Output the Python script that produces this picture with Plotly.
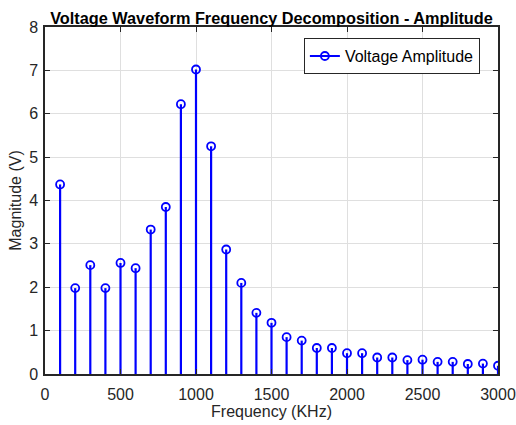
import plotly.graph_objects as go

freq_khz = [100, 200, 300, 400, 500, 600, 700, 800, 900, 1000,
            1100, 1200, 1300, 1400, 1500, 1600, 1700, 1800, 1900, 2000,
            2100, 2200, 2300, 2400, 2500, 2600, 2700, 2800, 2900, 3000]
amplitude_v = [4.37, 1.98, 2.51, 1.98, 2.56, 2.44, 3.33, 3.85, 6.22, 7.02,
               5.25, 2.87, 2.1, 1.41, 1.18, 0.85, 0.77, 0.6, 0.6, 0.48,
               0.48, 0.38, 0.38, 0.32, 0.33, 0.28, 0.28, 0.23, 0.24, 0.19]
x_ticks = [0, 500, 1000, 1500, 2000, 2500, 3000]
y_ticks = [0, 1, 2, 3, 4, 5, 6, 7, 8]

BLUE = "#0000FF"
FONT = "Liberation Sans, Arial, sans-serif"
FS = 16

stem_x, stem_y = [], []
for f, a in zip(freq_khz, amplitude_v):
    stem_x += [f, f, None]
    stem_y += [0, a, None]

fig = go.Figure()
fig.add_trace(go.Scatter(x=stem_x, y=stem_y, mode="lines",
                         line=dict(color=BLUE, width=2.2),
                         showlegend=False, hoverinfo="skip"))
fig.add_trace(go.Scatter(x=freq_khz, y=amplitude_v, mode="markers",
                         marker=dict(symbol="circle-open", size=8,
                                     color=BLUE, line=dict(width=1.8, color=BLUE)),
                         showlegend=False, name="Voltage Amplitude"))
fig.add_trace(go.Scatter(x=[None], y=[None], mode="lines+markers",
                         name="Voltage Amplitude",
                         line=dict(color=BLUE, width=2),
                         marker=dict(symbol="circle-open", size=8,
                                     color=BLUE, line=dict(width=1.8, color=BLUE))))

axis_common = dict(showline=True, linecolor="#262626", linewidth=1.5, mirror="ticks",
                   ticks="inside", ticklen=5, tickcolor="#262626",
                   showgrid=True, gridcolor="#DFDFDF", gridwidth=1,
                   zeroline=False, automargin=False, ticklabeloverflow="allow",
                   tickfont=dict(family=FONT, size=FS, color="#262626"))

fig.update_xaxes(range=[0, 3000], tickvals=x_ticks, ticklabelstandoff=5,
                 title=dict(text="Frequency (KHz)", font=dict(family=FONT, size=FS, color="#262626"),
                            standoff=0),
                 **axis_common)
fig.update_yaxes(range=[0, 8], tickvals=y_ticks, ticklabelstandoff=2,
                 title=dict(text="Magnitude (V)", font=dict(family=FONT, size=FS, color="#262626"),
                            standoff=4),
                 **axis_common)

fig.update_layout(
    width=516, height=425,
    margin=dict(l=45, r=18, t=27, b=51),
    paper_bgcolor="white", plot_bgcolor="white",
    title=dict(text="<b>Voltage Waveform Frequency Decomposition - Amplitude</b>",
               font=dict(family=FONT, size=16.3, color="black"),
               x=0.5, xanchor="center", xref="paper", y=1 - 18 / 425, yanchor="middle"),
    legend=dict(x=0.96, y=0.968, xanchor="right", yanchor="top",
                bgcolor="white", bordercolor="#262626", borderwidth=1,
                font=dict(family=FONT, size=FS, color="black")),
)

fig.write_html("out.html")
